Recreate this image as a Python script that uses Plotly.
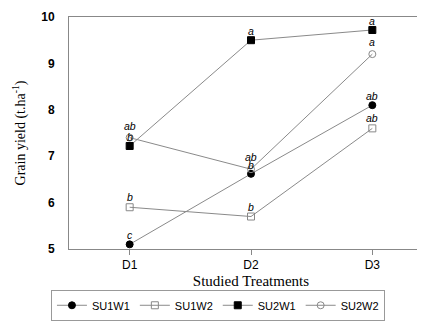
import plotly.graph_objects as go

treatments = ["D1", "D2", "D3"]
x_pos = [1, 2, 3]
series_names = ["SU1W1", "SU1W2", "SU2W1", "SU2W2"]
su1w1 = [5.1, 6.62, 8.1]
su1w2 = [5.9, 5.7, 7.6]
su2w1 = [7.22, 9.5, 9.72]
su2w2 = [7.4, 6.72, 9.2]
lbl_su1w1 = ["c", "b", "ab"]
lbl_su1w2 = ["b", "b", "ab"]
lbl_su2w1 = ["b", "a", "a"]
lbl_su2w2 = ["ab", "ab", "a"]

values = [su1w1, su1w2, su2w1, su2w2]
labels = [lbl_su1w1, lbl_su1w2, lbl_su2w1, lbl_su2w2]
label_shift = [9, 10, 9, 12]
markers = [
    dict(symbol="circle", size=7, color="black", line=dict(color="black", width=1)),
    dict(symbol="square-open", size=7, color="#888888", line=dict(width=1)),
    dict(symbol="square", size=7, color="black", line=dict(color="black", width=1)),
    dict(symbol="circle-open", size=7, color="#888888", line=dict(width=1)),
]

fig = go.Figure()
for name, vals, mk in zip(series_names, values, markers):
    fig.add_trace(go.Scatter(
        x=x_pos, y=vals, name=name, mode="lines+markers",
        line=dict(color="#8a8a8a", width=1), marker=mk,
    ))

annotations = []
for vals, lb, sh in zip(values, labels, label_shift):
    for xv, yv, t in zip(x_pos, vals, lb):
        annotations.append(dict(
            x=xv, y=yv, text="<i>" + t + "</i>", showarrow=False,
            yshift=sh, font=dict(family="Liberation Sans", size=10.5, color="black"),
        ))

fig.update_layout(
    width=425, height=325,
    margin=dict(l=61, r=0, t=9, b=84),
    plot_bgcolor="white", paper_bgcolor="white",
    font=dict(family="Liberation Sans", color="black"),
    annotations=annotations,
    legend=dict(
        orientation="h", xref="container", x=0.494, xanchor="center",
        yref="container", y=0.133, yanchor="top",
        bordercolor="#999999", borderwidth=1,
        font=dict(family="Liberation Sans", size=11, color="black"),
        itemwidth=30, tracegroupgap=0,
    ),
    xaxis=dict(
        range=[0.5, 3.5], tickvals=x_pos, ticktext=treatments, automargin=False,
        showline=True, linecolor="#888888", linewidth=1, mirror=True,
        ticks="outside", ticklen=5, tickcolor="#888888", showgrid=False, zeroline=False,
        tickfont=dict(family="Liberation Sans", size=12, color="black"),
        title=dict(text="Studied Treatments", standoff=4,
                   font=dict(family="Liberation Serif", size=15, color="black")),
    ),
    yaxis=dict(
        range=[5, 10], dtick=1, showline=True, linecolor="#888888", linewidth=1, mirror=True,
        ticks="", showgrid=False, zeroline=False, ticklabelstandoff=11, automargin=False,
        tickfont=dict(family="Liberation Sans", size=12, color="black", weight="bold"),
        title=dict(text="Grain yield (t.ha<sup>-1</sup>)", standoff=12,
                   font=dict(family="Liberation Serif", size=14, color="black")),
    ),
)
fig.write_html("out.html")
